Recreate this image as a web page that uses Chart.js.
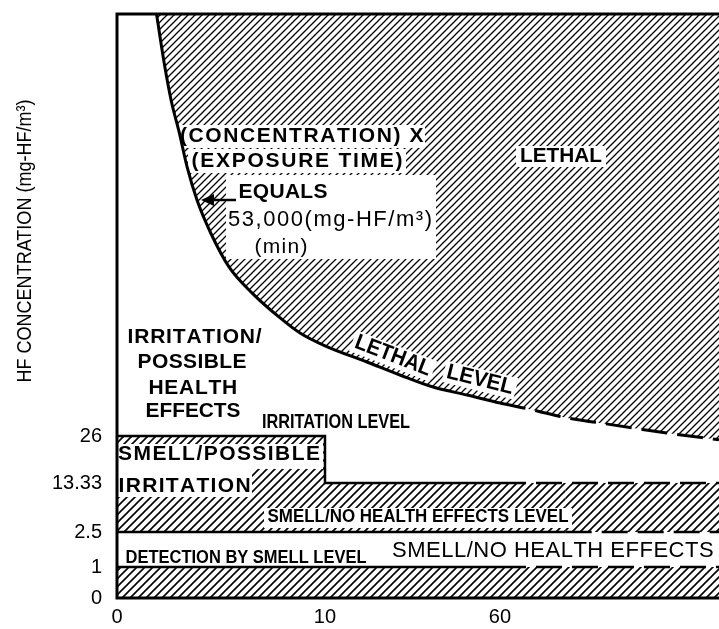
<!DOCTYPE html>
<html>
<head>
<meta charset="utf-8">
<script src="https://cdn.jsdelivr.net/npm/chart.js@4.4.0/dist/chart.umd.min.js"></script>
<style>
  html, body { margin: 0; padding: 0; background: #fff; }
  #wrap { width: 719px; height: 629px; }
</style>
</head>
<body>
<div id="wrap"><canvas id="chart" width="719" height="629"></canvas></div>
<script>
// Exposure time (min) vs HF concentration (mg-HF/m3).
// Axes are drawn non-uniformly in the original, so the scales below are piecewise.
const xTicks = [0, 10, 60];
const yTicks = [0, 1, 2.5, 13.33, 26];

// lethal curve, (concentration) x (time) = 53,000
const lethalTime = [1.9, 2.3, 2.6, 3.0, 3.37, 3.85, 4.5, 5.4, 6.5, 7.8, 8.8, 10, 22, 31.4, 40.9, 50.6, 60, 69, 78.4, 87.4, 96.4, 105.7, 120];
const lethalConc = [28000, 24500, 22300, 20100, 17860, 15650, 13500, 11200, 9500, 7900, 6850, 6000, 4930, 4070, 3270, 2740, 2210, 1750, 1220, 890, 560, 225, 25];

const irritationTime = [0, 10, 10, 60, 120];
const irritationConc = [26, 26, 13.33, 13.33, 13.33];

const noEffectTime = [0, 78, 120];
const noEffectConc = [2.5, 2.5, 2.5];

const detectionTime = [0, 60, 120];
const detectionConc = [1, 1, 1];

// where each value sits along its axis (fraction of axis length)
const BREAKS = {
    x: [[0, 0], [10, 0.3455], [60, 0.6362], [120, 1]],
    y: [[0, 0], [1, 0.0531], [2.5, 0.113], [13.33, 0.1969], [26, 0.2774], [28000, 1]]
};

const toFrac = (v, br) => {
    for (let i = 1; i < br.length; i++) {
        if (v <= br[i][0] || i === br.length - 1) {
            const [v0, f0] = br[i - 1], [v1, f1] = br[i];
            return f0 + (v - v0) / (v1 - v0) * (f1 - f0);
        }
    }
};
const fromFrac = (f, br) => {
    for (let i = 1; i < br.length; i++) {
        if (f <= br[i][1] || i === br.length - 1) {
            const [v0, f0] = br[i - 1], [v1, f1] = br[i];
            return v0 + (f - f0) / (f1 - f0) * (v1 - v0);
        }
    }
};

class PiecewiseScale extends Chart.LinearScale {
    static id = 'piecewise';
    static defaults = Chart.LinearScale.defaults;
    getPixelForValue(value) {
        return this.getPixelForDecimal(toFrac(value, BREAKS[this.id]));
    }
    getValueForPixel(pixel) {
        return fromFrac(this.getDecimalForPixel(pixel), BREAKS[this.id]);
    }
}
Chart.register(PiecewiseScale);

const hatch = (step, width) => {
    const c = document.createElement('canvas');
    c.width = c.height = step;
    const g = c.getContext('2d');
    g.strokeStyle = '#000';
    g.lineWidth = width;
    g.beginPath();
    g.moveTo(-1, step + 1); g.lineTo(step + 1, -1);
    g.moveTo(-step / 2 - 1, step / 2 + 1); g.lineTo(step / 2 + 1, -step / 2 - 1);
    g.moveTo(step / 2 - 1, step * 1.5 + 1); g.lineTo(step * 1.5 + 1, step / 2 - 1);
    g.stroke();
    return g.createPattern(c, 'repeat');
};
const lethalHatch = hatch(7, 1.3);
const bandHatch = hatch(8, 1.6);

const pts = (xs, ys) => xs.map((x, i) => ({ x, y: ys[i] }));
// extrapolated part of each level is dashed
const dashFrom = t => ({ borderDash: c => (c.p0.parsed.x >= t - 1e-6 ? [26, 10] : []) });

const FONT = "'Liberation Sans', Arial, Helvetica, sans-serif";

// white patches that break the hatching behind labels [x0, y0, x1, y1]
const whiteBoxes = [
    [177, 125, 425, 148], [188, 149, 406, 173], [226, 175, 436, 259],
    [516, 146, 606, 167],
    [118, 444, 323, 469], [118, 469, 252, 497],
    [264, 508, 572, 528]
];

// labels: text, centre x, centre y, width, size, weight, angle (deg)
const labels = [
    ['(CONCENTRATION) X', 301, 136, 242, 21, 'bold', 0],
    ['(EXPOSURE TIME)', 297, 161, 211, 21, 'bold', 0],
    ['EQUALS', 283, 192, 89, 21, 'bold', 0],
    ['53,000(mg-HF/m\u00b3)', 330, 220, 204, 22, 'normal', 0],
    ['(min)', 281, 247, 53, 21, 'normal', 0],
    ['LETHAL', 561, 156, 82, 21, 'bold', 0],
    ['LETHAL', 393, 356, 80, 22, 'bold', 21],
    ['LEVEL', 480, 380, 68, 22, 'bold', 14],
    ['IRRITATION/', 193, 337, 131, 21, 'bold', 0],
    ['POSSIBLE', 192, 362, 109, 21, 'bold', 0],
    ['HEALTH', 192, 388, 87, 21, 'bold', 0],
    ['EFFECTS', 193, 411, 95, 21, 'bold', 0],
    ['IRRITATION LEVEL', 336, 422, 148, 20, 'bold', 0],
    ['SMELL/POSSIBLE', 219, 454, 202, 21, 'bold', 0],
    ['IRRITATION', 183, 486, 129, 21, 'bold', 0],
    ['SMELL/NO HEALTH EFFECTS LEVEL', 418, 517, 301, 18, 'bold', 0],
    ['DETECTION BY SMELL LEVEL', 246, 558, 241, 18, 'bold', 0],
    ['SMELL/NO HEALTH EFFECTS', 552, 551, 320, 22, 'normal', 0]
];

const drawFit = (ctx, text, cx, cy, w) => {
    const nat = ctx.measureText(text).width;
    if (nat >= w) {
        ctx.save();
        ctx.translate(cx, cy);
        ctx.scale(w / nat, 1);
        ctx.textAlign = 'center';
        ctx.fillText(text, 0, 0);
        ctx.restore();
    } else {
        const chars = [...text];
        const extra = (w - nat) / (chars.length - 1);
        let x = cx - w / 2;
        ctx.textAlign = 'left';
        chars.forEach(ch => {
            ctx.fillText(ch, x, cy);
            x += ctx.measureText(ch).width + extra;
        });
    }
};

const decorations = {
    id: 'decorations',
    beforeDatasetsDraw(chart) {
        const ctx = chart.ctx;
        ctx.save();
        ctx.fillStyle = '#fff';
        whiteBoxes.forEach(([x0, y0, x1, y1]) => ctx.fillRect(x0, y0, x1 - x0, y1 - y0));
        labels.filter(l => l[6]).forEach(([, cx, cy, w, size, , ang]) => {
            ctx.save();
            ctx.translate(cx, cy);
            ctx.rotate(ang * Math.PI / 180);
            ctx.fillRect(-w / 2 - 3, -size / 2, w + 6, size);
            ctx.restore();
        });
        ctx.restore();
    },
    afterDatasetsDraw(chart) {
        const ctx = chart.ctx;
        const a = chart.chartArea;
        ctx.save();
        // frame: left, top and bottom
        ctx.strokeStyle = '#000';
        ctx.lineWidth = 3;
        ctx.beginPath();
        ctx.moveTo(a.right + 2, a.top);
        ctx.lineTo(a.left, a.top);
        ctx.lineTo(a.left, a.bottom);
        ctx.lineTo(a.right + 2, a.bottom);
        ctx.stroke();

        // arrow from "EQUALS" to the curve
        ctx.lineWidth = 2.5;
        ctx.beginPath();
        ctx.moveTo(236, 200);
        ctx.lineTo(208, 200);
        ctx.stroke();
        ctx.fillStyle = '#000';
        ctx.beginPath();
        ctx.moveTo(201, 200);
        ctx.lineTo(214, 194);
        ctx.lineTo(214, 206);
        ctx.closePath();
        ctx.fill();

        ctx.textBaseline = 'middle';
        labels.forEach(([text, cx, cy, w, size, weight, ang]) => {
            ctx.font = `${weight} ${size}px ${FONT}`;
            ctx.save();
            ctx.translate(cx, cy);
            ctx.rotate(ang * Math.PI / 180);
            drawFit(ctx, text, 0, 0, w);
            ctx.restore();
        });

        // y-axis title
        ctx.font = `normal 21px ${FONT}`;
        ctx.translate(25, 241);
        ctx.rotate(-Math.PI / 2);
        drawFit(ctx, 'HF CONCENTRATION (mg-HF/m\u00b3)', 0, 0, 283);
        ctx.restore();
    }
};

const ctx = document.getElementById('chart').getContext('2d');
new Chart(ctx, {
    type: 'line',
    data: {
        datasets: [
            {
                label: 'Lethal level',
                data: pts(lethalTime, lethalConc),
                borderColor: '#000',
                borderWidth: 3,
                pointRadius: 0,
                cubicInterpolationMode: 'monotone',
                fill: 'end',
                backgroundColor: lethalHatch,
                segment: dashFrom(60)
            },
            {
                label: 'Irritation level',
                data: pts(irritationTime, irritationConc),
                borderColor: '#000',
                borderWidth: 2.5,
                pointRadius: 0,
                fill: 2,
                backgroundColor: bandHatch,
                segment: dashFrom(60)
            },
            {
                label: 'Smell/no health effects level',
                data: pts(noEffectTime, noEffectConc),
                borderColor: '#000',
                borderWidth: 2.5,
                pointRadius: 0,
                fill: false,
                segment: dashFrom(78)
            },
            {
                label: 'Detection by smell level',
                data: pts(detectionTime, detectionConc),
                borderColor: '#000',
                borderWidth: 2.5,
                pointRadius: 0,
                fill: 'origin',
                backgroundColor: bandHatch,
                segment: dashFrom(60)
            }
        ]
    },
    options: {
        responsive: false,
        animation: false,
        events: [],
        layout: { padding: { top: 14, right: 0, left: 0, bottom: 0 } },
        plugins: {
            legend: { display: false },
            tooltip: { enabled: false },
            filler: { drawTime: 'beforeDatasetsDraw' }
        },
        scales: {
            x: {
                type: 'piecewise',
                min: 0,
                max: 120,
                afterBuildTicks: axis => { axis.ticks = xTicks.map(v => ({ value: v })); },
                afterFit: axis => { axis.height = 31; axis.paddingLeft = 0; axis.paddingRight = 0; },
                grid: { display: false, drawTicks: false },
                border: { display: false },
                ticks: {
                    color: '#000',
                    padding: 7,
                    maxRotation: 0,
                    autoSkip: false,
                    font: { family: FONT, size: 20 },
                    callback: v => String(v)
                }
            },
            y: {
                type: 'piecewise',
                min: 0,
                max: 28000,
                afterBuildTicks: axis => { axis.ticks = yTicks.map(v => ({ value: v })); },
                afterFit: axis => { axis.width = 117; axis.paddingTop = 0; axis.paddingBottom = 0; },
                grid: { display: false, drawTicks: false },
                border: { display: false },
                ticks: {
                    color: '#000',
                    padding: 15,
                    autoSkip: false,
                    font: { family: FONT, size: 20 },
                    callback: v => String(v)
                }
            }
        }
    },
    plugins: [decorations]
});
</script>
</body>
</html>
